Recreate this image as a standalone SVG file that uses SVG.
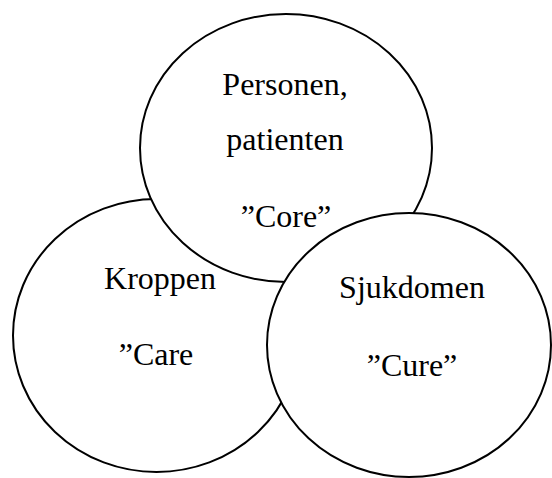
<svg xmlns="http://www.w3.org/2000/svg" width="552" height="478" viewBox="0 0 552 478">
<style>
.c{fill:#fff;stroke:#000;stroke-width:2}
.t{font-family:"Liberation Serif","Times New Roman",serif;font-size:32px;fill:#000;text-anchor:middle}
</style>
<rect width="552" height="478" fill="#fff"/>
<g id="connectors"></g>
<g id="kroppen">
<ellipse class="c" cx="156.5" cy="335.5" rx="143.5" ry="136.5"/>
<text class="t" x="160" y="289">Kroppen</text>
<text class="t" x="156" y="365">”Care</text>
</g>
<g id="personen">
<ellipse class="c" cx="286" cy="148" rx="146" ry="134"/>
<text class="t" x="285" y="95">Personen,</text>
<text class="t" x="285" y="150">patienten</text>
<text class="t" x="286" y="227">”Core”</text>
</g>
<g id="sjukdomen">
<ellipse class="c" cx="409" cy="345" rx="142" ry="132"/>
<text class="t" x="412" y="298">Sjukdomen</text>
<text class="t" x="412" y="376">”Cure”</text>
</g>
</svg>
